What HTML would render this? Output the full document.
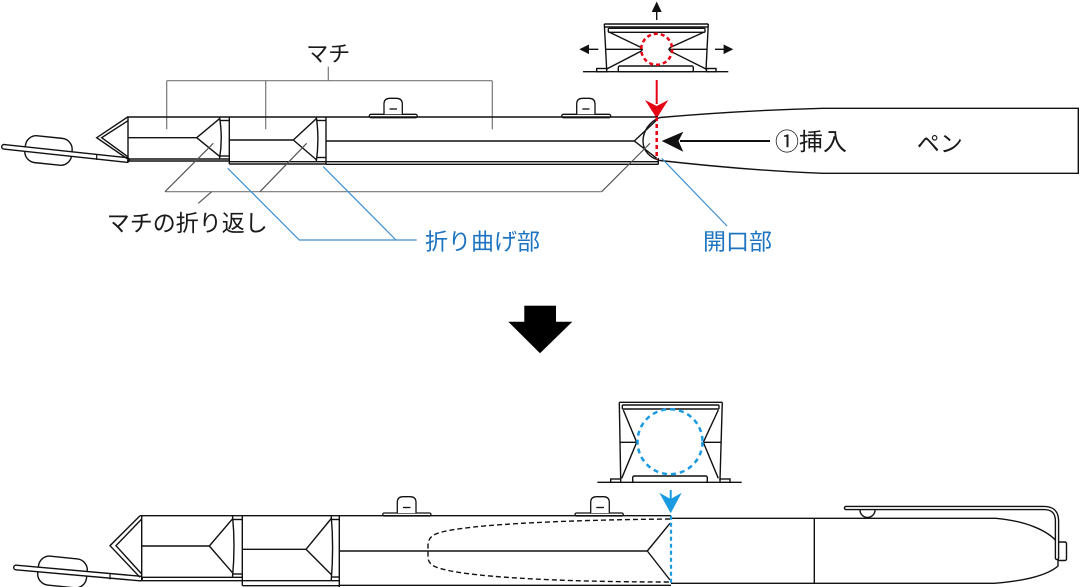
<!DOCTYPE html>
<html>
<head>
<meta charset="utf-8">
<style>
html,body{margin:0;padding:0;background:#fff;}
svg{display:block;}
text{font-family:"Liberation Sans","Noto Sans CJK JP",sans-serif;}
</style>
</head>
<body>
<svg width="1080" height="587" viewBox="0 0 1080 587" xmlns="http://www.w3.org/2000/svg">
<rect width="1080" height="587" fill="#fff"/>

<!-- ================= TOP INSET ================= -->
<g stroke="#111" stroke-width="1.4" fill="none">
  <!-- arrows -->
  <line x1="656.7" y1="20" x2="656.7" y2="9"/>
  <line x1="598.3" y1="49.3" x2="587" y2="49.3"/>
  <line x1="715" y1="49.3" x2="726" y2="49.3"/>
  <line x1="583" y1="71.7" x2="728.3" y2="71.7"/>
  <rect x="596.7" y="68.5" width="10" height="3.2" fill="#fff"/>
  <rect x="706.5" y="68.5" width="9.5" height="3.2" fill="#fff"/>
  <line x1="604.3" y1="24" x2="708.3" y2="24"/>
  <line x1="605" y1="27" x2="707.7" y2="27"/>
  <rect x="608.3" y="28.3" width="96.7" height="4" rx="1"/>
  <path d="M604.3,24 L606.7,70 M708.3,24 L706,70"/>
  <rect x="618.3" y="66" width="75" height="5.7" rx="1.5" fill="#fff"/>
  <path d="M605.5,49.3 L641.7,49.3 M668.3,49.3 L707,49.3"/>
  <path d="M609,32 L641,47.4 Q643.5,49.3 641,51.2 L606.7,69"/>
  <path d="M704.3,32 L670.4,47.4 Q667.9,49.3 670.4,51.2 L706,69"/>
</g>
<g fill="#111">
  <polygon points="656.7,1.5 651.7,12 661.7,12"/>
  <polygon points="579.3,49.3 589,44.5 589,54.1"/>
  <polygon points="733.3,49.3 723.6,44.5 723.6,54.1"/>
</g>
<circle cx="656.7" cy="49.3" r="15.5" fill="none" stroke="#e50012" stroke-width="2.5" stroke-dasharray="4 3"/>
<!-- red arrow -->
<line x1="656.7" y1="80" x2="656.7" y2="104" stroke="#e50012" stroke-width="2"/>
<polygon points="645,100 656.7,118.3 668.3,100 656.7,106" fill="#e50012"/>

<!-- ================= TOP BAG ================= -->
<!-- bracket マチ -->
<g stroke="#777" stroke-width="1.2" fill="none">
  <line x1="328.3" y1="66.7" x2="328.3" y2="80.7"/>
  <line x1="166.7" y1="80.7" x2="492.3" y2="80.7"/>
  <line x1="166.7" y1="80.7" x2="166.7" y2="129.3"/>
  <line x1="265.7" y1="80.7" x2="265.7" y2="129.3"/>
  <line x1="492.3" y1="80.7" x2="492.3" y2="129.3"/>
</g>
<text x="328.3" y="61.5" font-size="22" text-anchor="middle" fill="#1a1a1a">マチ</text>

<!-- loop & strap -->
<g stroke="#111" stroke-width="1.4">
  <rect x="25" y="137" width="47" height="27" rx="11" transform="rotate(6 48.5 150.5)" fill="#fff"/>
</g>
<path d="M4,146.8 L127,160" stroke="#111" stroke-width="6" stroke-linecap="round" fill="none"/>
<path d="M4,146.8 L127,160" stroke="#fff" stroke-width="3.2" stroke-linecap="round" fill="none"/>
<line x1="96.7" y1="154.5" x2="96.7" y2="160" stroke="#111" stroke-width="1.2"/>

<!-- tabs top -->
<g stroke="#111" stroke-width="1.3" fill="#fff">
  <rect x="369.3" y="114.3" width="48" height="3.4" rx="1.7"/>
  <path d="M384,114.3 L384,104 Q384,98.3 390,98.3 L396.3,98.3 Q402.3,98.3 402.3,104 L402.3,114.3"/>
  <line x1="389.5" y1="109" x2="397" y2="109"/>
  <rect x="561.7" y="114.3" width="49" height="3.4" rx="1.7"/>
  <path d="M576.7,114.3 L576.7,104 Q576.7,98.3 582.7,98.3 L589,98.3 Q595,98.3 595,104 L595,114.3"/>
  <line x1="582.3" y1="109" x2="589.5" y2="109"/>
</g>

<g stroke="#111" stroke-width="1.4" fill="none">
  <line x1="127" y1="117" x2="658" y2="117"/>
  <!-- nose -->
  <path d="M127.7,117 L96.7,137.7 L127.7,159"/>
  <path d="M128,120.7 L101.7,137.7 L127.7,156.7"/>
  <line x1="128" y1="117" x2="128" y2="161"/>
  <!-- section 1 -->
  <line x1="128" y1="137.7" x2="196.7" y2="137.7"/>
  <path d="M196.7,137.7 L220,118.3 M196.7,137.7 L220,156.7"/>
  <path d="M219.5,117 Q223,138 219.5,159"/>
  <line x1="128" y1="159" x2="229" y2="159"/>
  <line x1="127" y1="161" x2="229" y2="161"/>
  <line x1="220" y1="120.5" x2="229" y2="120.5"/>
  <line x1="220" y1="156" x2="229" y2="156"/>
  <line x1="229.3" y1="117" x2="229.3" y2="164"/>
  <!-- section 2 -->
  <line x1="229.3" y1="140" x2="293.3" y2="140"/>
  <path d="M293.3,140 L316.7,118.3 M293.3,140 L316.7,160"/>
  <path d="M316.3,117 Q319.5,139 316.3,161.7"/>
  <line x1="229.3" y1="161.7" x2="326" y2="161.7"/>
  <line x1="229.3" y1="164" x2="326" y2="164"/>
  <line x1="317" y1="120.5" x2="326" y2="120.5"/>
  <line x1="317" y1="157.5" x2="326" y2="157.5"/>
  <line x1="326" y1="117" x2="326" y2="164.3"/>
  <!-- section 3 -->
  <line x1="326" y1="141" x2="634.3" y2="141"/>
  <path d="M634.3,141 L656.7,120 M634.3,141 L656.7,158.3"/>
  <line x1="326" y1="161.7" x2="658.3" y2="161.7"/>
  <line x1="326" y1="164.3" x2="658.3" y2="164.3"/>
  <line x1="658.3" y1="158" x2="658.3" y2="164.3"/>
  <!-- pen -->
  <path d="M1078.3,108.3 L823,108.3 C760,110 700,114 660,117.5 C650,121 643,131 643,141 C643,151 650,158 660,160.5 C700,165 760,171 823,173.3 L1078.3,173.3 Z"/>
</g>
<line x1="656.7" y1="117" x2="656.7" y2="159.5" stroke="#e50012" stroke-width="2.5" stroke-dasharray="4 3"/>

<!-- insert arrow -->
<line x1="680" y1="141" x2="770" y2="141" stroke="#111" stroke-width="2"/>
<polygon points="661.7,141 683.3,131.7 678.5,141 683.3,151.7" fill="#111"/>
<text x="775" y="149.8" font-size="24" fill="#1a1a1a">①挿入</text>
<text x="916.7" y="151.5" font-size="23" fill="#1a1a1a">ペン</text>

<!-- gray leaders -->
<g stroke="#555" stroke-width="1.2" fill="none">
  <line x1="165" y1="191.7" x2="601.7" y2="191.7" stroke="#777"/>
  <line x1="165" y1="191.7" x2="213.3" y2="143.3"/>
  <line x1="260" y1="191.7" x2="306.7" y2="143.3"/>
  <line x1="601.7" y1="191.7" x2="650" y2="143.3"/>
  <line x1="211.7" y1="191.7" x2="198.3" y2="203.3"/>
</g>
<text x="106.7" y="231" font-size="23" fill="#1a1a1a">マチの折り返し</text>

<!-- blue leaders -->
<g stroke="#3d8fd1" stroke-width="1.2" fill="none">
  <path d="M227.7,168.3 L299.3,240 L416.7,240"/>
  <line x1="323.3" y1="166.7" x2="396" y2="240"/>
  <line x1="661.7" y1="158.3" x2="727" y2="226"/>
</g>
<text x="425" y="249.5" font-size="23" fill="#1d74c0">折り曲げ部</text>
<text x="703" y="249.5" font-size="23" fill="#1d74c0">開口部</text>

<!-- ================= BIG ARROW ================= -->
<rect x="524.3" y="305.7" width="31.7" height="17" fill="#000"/>
<polygon points="508.3,321.7 572.3,321.7 540,353.3" fill="#000"/>

<!-- ================= BOTTOM INSET ================= -->
<g stroke="#111" stroke-width="1.4" fill="none">
  <line x1="597.3" y1="482.3" x2="741.7" y2="482.3"/>
  <rect x="610.7" y="479" width="10" height="3.3" fill="#fff"/>
  <rect x="720" y="479" width="10" height="3.3" fill="#fff"/>
  <line x1="619.3" y1="402.3" x2="722.3" y2="402.3"/>
  <rect x="622.3" y="405" width="96.7" height="4" rx="1"/>
  <path d="M619.3,402.3 L620.7,480 M722.3,402.3 L720,480"/>
  <rect x="632.7" y="476" width="74.6" height="6.3" rx="1.5" fill="#fff"/>
  <path d="M620,442.3 L636.7,442.3 M703.3,442.3 L721,442.3"/>
  <path d="M623.3,410 L636.7,442.3 L621.7,478.3"/>
  <path d="M718.3,410 L703.3,442.3 L718.3,478.3"/>
</g>
<circle cx="670" cy="441.7" r="32.5" fill="none" stroke="#1a9ae0" stroke-width="2.5" stroke-dasharray="5 4"/>
<!-- blue arrow -->
<line x1="670.7" y1="490" x2="670.7" y2="500" stroke="#1a9ae0" stroke-width="2"/>
<polygon points="659.3,492.7 670.7,513.3 681.7,492.7 670.7,499" fill="#1a9ae0"/>

<!-- ================= BOTTOM BAG ================= -->
<g stroke="#111" stroke-width="1.4">
  <rect x="38" y="557.5" width="49" height="29" rx="11" transform="rotate(6 62.5 572)" fill="#fff"/>
</g>
<path d="M16,567.5 L140,578.5" stroke="#111" stroke-width="6" stroke-linecap="round" fill="none"/>
<path d="M16,567.5 L140,578.5" stroke="#fff" stroke-width="3.2" stroke-linecap="round" fill="none"/>
<line x1="110" y1="573.5" x2="110" y2="579.5" stroke="#111" stroke-width="1.2"/>

<!-- tabs bottom -->
<g stroke="#111" stroke-width="1.3" fill="#fff">
  <rect x="382.7" y="513" width="48.3" height="3" rx="1.5"/>
  <path d="M397.3,513 L397.3,502.5 Q397.3,496.7 403.3,496.7 L410,496.7 Q416,496.7 416,502.5 L416,513"/>
  <line x1="403" y1="507.5" x2="410.5" y2="507.5"/>
  <rect x="575" y="513" width="48.3" height="3" rx="1.5"/>
  <path d="M590.7,513 L590.7,502.5 Q590.7,496.7 596.7,496.7 L603.3,496.7 Q609.3,496.7 609.3,502.5 L609.3,513"/>
  <line x1="596.3" y1="507.5" x2="604" y2="507.5"/>
</g>

<g stroke="#111" stroke-width="1.4" fill="none">
  <line x1="140" y1="515.7" x2="671" y2="515.7"/>
  <path d="M140,515.7 L110,545.7 L140,577.3"/>
  <path d="M141.7,519 L116,545.7 L141.7,574"/>
  <line x1="141.7" y1="515.7" x2="141.7" y2="580.7"/>
  <!-- section 1 -->
  <line x1="141.7" y1="546" x2="209.3" y2="546"/>
  <path d="M209.3,546 L233,518.3 M209.3,546 L233,573.3"/>
  <path d="M232.5,515.7 Q235.5,546 232.5,577.3"/>
  <line x1="141.7" y1="577.3" x2="242.3" y2="577.3"/>
  <line x1="140" y1="580.7" x2="242.3" y2="580.7"/>
  <line x1="233" y1="519.5" x2="242.3" y2="519.5"/>
  <line x1="233" y1="574" x2="242.3" y2="574"/>
  <line x1="242.3" y1="515.7" x2="242.3" y2="585.7"/>
  <!-- section 2 -->
  <line x1="242.3" y1="549.3" x2="306" y2="549.3"/>
  <path d="M306,549.3 L331.7,518 M306,549.3 L331.7,575"/>
  <path d="M331.2,515.7 Q334,548 331.2,580.7"/>
  <line x1="242.3" y1="580.7" x2="339.3" y2="580.7"/>
  <line x1="242.3" y1="585.7" x2="339.3" y2="585.7"/>
  <line x1="331.7" y1="519.5" x2="339.3" y2="519.5"/>
  <line x1="331.7" y1="577" x2="339.3" y2="577"/>
  <line x1="339.3" y1="515.7" x2="339.3" y2="587"/>
  <!-- section 3 -->
  <line x1="339.3" y1="551" x2="647.3" y2="551"/>
  <path d="M647.3,551 L670,523.3 M647.3,551 L670,580"/>
  <line x1="339.3" y1="585.3" x2="671" y2="585.3"/>
  <!-- pen -->
  <path d="M671,518.3 L996,518.3 C1025,521 1048,530 1058,543 L1058,566 C1048,575 1025,581 994,583.3 L671,583.3"/>
  <rect x="1058" y="542" width="8.5" height="18.5" rx="1.5" fill="#fff"/>
  <line x1="814.3" y1="518.3" x2="814.3" y2="583.3"/>
  <path d="M860,510 A7.5,7.5 0 0 0 875,510"/>
</g>
<path d="M846,508 L1044,508 Q1057,508 1057,521 L1057,558" stroke="#111" stroke-width="4.6" stroke-linecap="round" fill="none"/>
<path d="M846,508 L1044,508 Q1057,508 1057,521 L1057,558" stroke="#fff" stroke-width="1.8" stroke-linecap="round" fill="none"/>

<!-- dashed pen inside -->
<path d="M670,519 C560,520 450,525 434,535 Q428,538 428,546 L428,557 Q428,564 436,567 C460,577 560,582 670,582" stroke="#111" stroke-width="1.4" fill="none" stroke-dasharray="5 3"/>
<line x1="671" y1="515.7" x2="671" y2="585" stroke="#1a9ae0" stroke-width="2.2" stroke-dasharray="4 3"/>

</svg>
</body>
</html>
